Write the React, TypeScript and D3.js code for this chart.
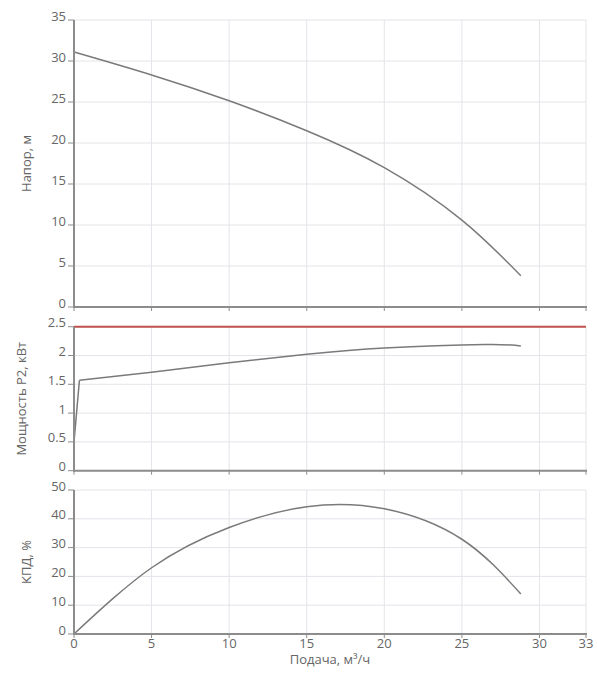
import React from 'react';
import * as d3 from 'd3';

// Подача, м³/ч  -> Напор, м
const headFlow = [0, 5, 10, 15, 20, 25, 28.8];
const headValues = [31.1, 28.3, 25.15, 21.5, 17.0, 10.6, 3.8];

// Подача -> Мощность P2, кВт
const powerFlow = [0, 0.35, 5, 10, 15, 20, 26.5, 28.8];
const powerValues = [0.5, 1.57, 1.71, 1.875, 2.02, 2.13, 2.19, 2.165];

// Подача -> КПД, %
const effFlow = [0, 5, 10, 15, 20, 25, 28.8];
const effValues = [0, 23, 37, 44.2, 43.5, 32.9, 13.9];

// ограничение мощности
const limitFlow = [0, 33];
const limitValues = [2.5, 2.5];

const xTicks = [0, 5, 10, 15, 20, 25, 30, 33];
const headTicks = [0, 5, 10, 15, 20, 25, 30, 35];
const powerTicks = [0, 0.5, 1, 1.5, 2, 2.5];
const effTicks = [0, 10, 20, 30, 40, 50];

const W = 597;
const H = 686;
const textColor = '#666';
const axisColor = '#8c8c8c';
const gridColor = '#e4e4ea';
const curveColor = '#7a7a7a';
const font = '"Open Sans", sans-serif';

const x = d3.scaleLinear().domain([0, 33]).range([74, 586]);

interface PanelProps {
  top: number;
  bottom: number;
  ticks: number[];
  title: string;
  titleX: number;
  showXLabels?: boolean;
  y: d3.ScaleLinear<number, number>;
  children?: React.ReactNode;
}

const Panel: React.FC<PanelProps> = ({ top, bottom, ticks, title, titleX, showXLabels, y, children }) => {
  return (
    <g>
      {/* grid */}
      {ticks.map(t => (
        <line key={'gy' + t} x1={x(0)} x2={x(33)} y1={y(t)} y2={y(t)} stroke={gridColor} strokeWidth={1} />
      ))}
      {xTicks.map(t => (
        <line key={'gx' + t} x1={x(t)} x2={x(t)} y1={top} y2={bottom} stroke={gridColor} strokeWidth={1} />
      ))}
      {children}
      {/* axes */}
      <line x1={x(0)} x2={x(0)} y1={top} y2={bottom + 1} stroke={axisColor} strokeWidth={2} />
      <line x1={x(0) - 1} x2={x(33) + 1} y1={bottom} y2={bottom} stroke={axisColor} strokeWidth={2} />
      {ticks.map(t => (
        <g key={'ty' + t}>
          <line x1={x(0) - 6} x2={x(0)} y1={y(t)} y2={y(t)} stroke={axisColor} strokeWidth={1} />
          <text x={66} y={y(t) + 0.5} textAnchor="end" fontSize={13} fill={textColor} fontFamily={font}>
            {t}
          </text>
        </g>
      ))}
      {xTicks.map(t => (
        <line key={'tx' + t} x1={x(t)} x2={x(t)} y1={bottom} y2={bottom + 4} stroke={axisColor} strokeWidth={1} />
      ))}
      {showXLabels && xTicks.map(t => (
        <text key={'lx' + t} x={x(t)} y={bottom + 13.5} textAnchor="middle" fontSize={13} fill={textColor} fontFamily={font}>
          {t}
        </text>
      ))}
      <text
        transform={`translate(${titleX},${(top + bottom) / 2}) rotate(-90)`}
        textAnchor="middle"
        fontSize={13}
        fill={textColor}
        fontFamily={font}
      >
        {title}
      </text>
    </g>
  );
};

function makeLine(y: d3.ScaleLinear<number, number>, xs: number[], ys: number[], curve: d3.CurveFactory = d3.curveNatural) {
  const pts = xs.map((q, i) => [q, ys[i]] as [number, number]);
  return d3.line<[number, number]>()
    .x(d => x(d[0]))
    .y(d => y(d[1]))
    .curve(curve)(pts) || '';
}

export default function App() {
  const yHead = d3.scaleLinear().domain([0, 35]).range([307, 20]);
  const yPower = d3.scaleLinear().domain([0, 2.5]).range([470.7, 326.7]);
  const yEff = d3.scaleLinear().domain([0, 50]).range([634, 490]);

  // резкий пуск мощности — прямой отрезок, дальше гладкая кривая
  const powerStart = makeLine(yPower, powerFlow.slice(0, 2), powerValues.slice(0, 2), d3.curveLinear);
  const powerRest = makeLine(yPower, powerFlow.slice(1), powerValues.slice(1));

  return (
    <svg width={W} height={H} style={{ position: 'absolute', left: 0, top: 0, background: '#fff' }}>
      <Panel top={20} bottom={307} ticks={headTicks} title="Напор, м" titleX={31} y={yHead}>
        <path d={makeLine(yHead, headFlow, headValues)} fill="none" stroke={curveColor} strokeWidth={1.5} />
      </Panel>
      <Panel top={326.7} bottom={470.7} ticks={powerTicks} title="Мощность P2, кВт" titleX={26} y={yPower}>
        <path d={powerStart} fill="none" stroke={curveColor} strokeWidth={1.5} />
        <path d={powerRest} fill="none" stroke={curveColor} strokeWidth={1.5} />
        <path d={makeLine(yPower, limitFlow, limitValues, d3.curveLinear)} fill="none" stroke="#c0504d" strokeWidth={2} />
      </Panel>
      <Panel top={490} bottom={634} ticks={effTicks} title="КПД, %" titleX={31} y={yEff} showXLabels>
        <path d={makeLine(yEff, effFlow, effValues)} fill="none" stroke={curveColor} strokeWidth={1.5} />
      </Panel>
      <text x={(x(0) + x(33)) / 2} y={664} textAnchor="middle" fontSize={13} fill={textColor} fontFamily={font}>
        Подача, м³/ч
      </text>
    </svg>
  );
}
